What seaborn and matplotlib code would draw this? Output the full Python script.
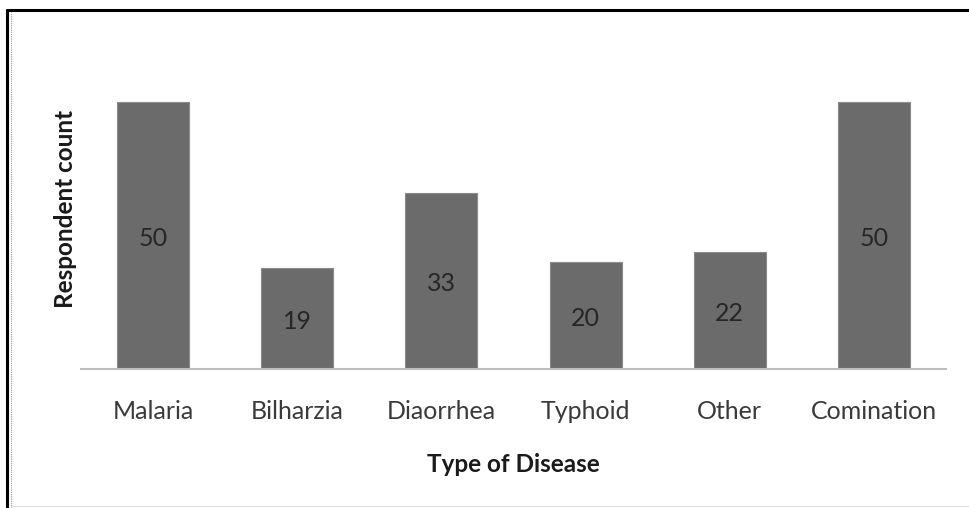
import matplotlib
matplotlib.use("Agg")
import matplotlib.pyplot as plt
import seaborn as sns
import pandas as pd
from matplotlib.lines import Line2D

categories = ["Malaria", "Bilharzia", "Diaorrhea", "Typhoid", "Other", "Comination"]
counts = [50, 19, 33, 20, 22, 50]

df = pd.DataFrame({"Disease": categories, "Count": counts})

sns.set_theme(style="white")
plt.rcParams["font.family"] = ["Lato", "DejaVu Sans"]

W, H = 969, 508
fig = plt.figure(figsize=(W / 100, H / 100), dpi=100)
ax = fig.add_axes([81 / W, 1 - 369 / H, (946 - 81) / W, (369 - 49) / H])

sns.barplot(data=df, x="Disease", y="Count", color="#6b6b6b", width=0.5,
            saturation=1, edgecolor="#8a8a8a", linewidth=0.8, ax=ax)

ax.set_xlim(-0.5, 5.5)
ax.set_ylim(0, 60)
for s in ["top", "right", "left"]:
    ax.spines[s].set_visible(False)
ax.spines["bottom"].set_color("#bdbdbd")
ax.spines["bottom"].set_linewidth(1.5)
ax.set_yticks([])
ax.tick_params(axis="x", length=0, pad=22, labelsize=18, labelcolor="#3a3a3a")

for i, v in enumerate(counts):
    ax.annotate(str(v), xy=(i, v / 2), xytext=(0, -2), textcoords="offset points",
                ha="center", va="center", fontsize=18, color="#262626")

ax.set_xlabel("Type of Disease", fontsize=17.5, fontweight="bold", color="#1a1a1a", labelpad=22)
ax.set_ylabel("Respondent count", fontsize=17.5, fontweight="bold", color="#1a1a1a", labelpad=3)

# outer frame
fig.add_artist(Line2D([7 / W, 1], [1 - 10 / H, 1 - 10 / H], color="black", lw=2.2, transform=fig.transFigure))
fig.add_artist(Line2D([7 / W, 7 / W], [0, 1 - 10 / H], color="black", lw=2.2, transform=fig.transFigure))
fig.add_artist(Line2D([11 / W, 11 / W], [0, 1 - 12 / H], color="#9a9a9a", lw=0.8, ls=(0, (1, 1)), transform=fig.transFigure))
fig.add_artist(Line2D([11 / W, 1], [1 - 506 / H, 1 - 506 / H], color="#dddddd", lw=0.8, transform=fig.transFigure))

fig.savefig("out.png", dpi=100)
